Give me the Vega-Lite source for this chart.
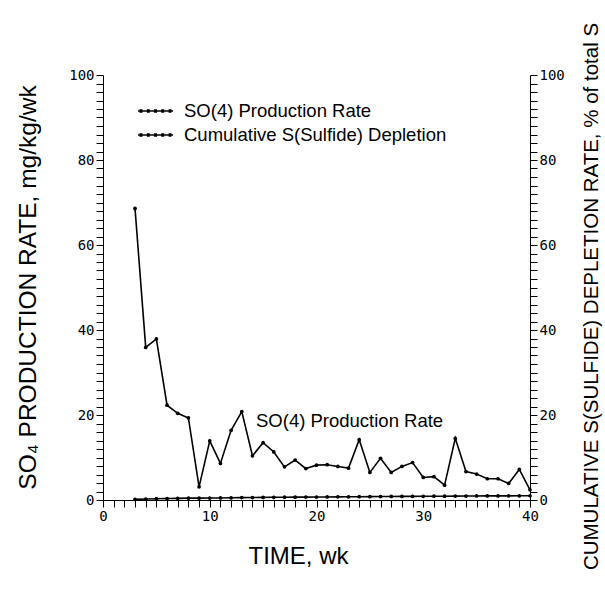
{
  "$schema": "https://vega.github.io/schema/vega-lite/v6.json",
  "width": 427,
  "height": 425,
  "autosize": {"type": "none"},
  "padding": {"left": 103, "top": 75, "right": 75, "bottom": 111},
  "background": "white",
  "config": {
    "view": {"stroke": null},
    "axis": {
      "domainColor": "black",
      "tickColor": "black",
      "labelColor": "black",
      "titleColor": "black",
      "labelFont": "DejaVu Sans Mono",
      "labelFontSize": 14,
      "titleFont": "Liberation Sans",
      "titleFontWeight": "normal",
      "grid": false
    }
  },
  "data": {
    "values": [
      {"week": 3, "so4": 68.6, "cum": 0.14},
      {"week": 4, "so4": 35.9, "cum": 0.22},
      {"week": 5, "so4": 37.9, "cum": 0.30},
      {"week": 6, "so4": 22.3, "cum": 0.34},
      {"week": 7, "so4": 20.4, "cum": 0.39},
      {"week": 8, "so4": 19.3, "cum": 0.43},
      {"week": 9, "so4": 3.1, "cum": 0.43},
      {"week": 10, "so4": 13.9, "cum": 0.46},
      {"week": 11, "so4": 8.6, "cum": 0.48},
      {"week": 12, "so4": 16.4, "cum": 0.52},
      {"week": 13, "so4": 20.8, "cum": 0.56},
      {"week": 14, "so4": 10.4, "cum": 0.58},
      {"week": 15, "so4": 13.5, "cum": 0.61},
      {"week": 16, "so4": 11.3, "cum": 0.63},
      {"week": 17, "so4": 7.8, "cum": 0.65},
      {"week": 18, "so4": 9.4, "cum": 0.67},
      {"week": 19, "so4": 7.4, "cum": 0.68},
      {"week": 20, "so4": 8.2, "cum": 0.70},
      {"week": 21, "so4": 8.3, "cum": 0.72},
      {"week": 22, "so4": 7.9, "cum": 0.74},
      {"week": 23, "so4": 7.5, "cum": 0.75},
      {"week": 24, "so4": 14.2, "cum": 0.78},
      {"week": 25, "so4": 6.5, "cum": 0.79},
      {"week": 26, "so4": 9.8, "cum": 0.82},
      {"week": 27, "so4": 6.5, "cum": 0.83},
      {"week": 28, "so4": 7.9, "cum": 0.85},
      {"week": 29, "so4": 8.8, "cum": 0.86},
      {"week": 30, "so4": 5.3, "cum": 0.87},
      {"week": 31, "so4": 5.5, "cum": 0.89},
      {"week": 32, "so4": 3.5, "cum": 0.89},
      {"week": 33, "so4": 14.5, "cum": 0.92},
      {"week": 34, "so4": 6.7, "cum": 0.94},
      {"week": 35, "so4": 6.1, "cum": 0.95},
      {"week": 36, "so4": 5.0, "cum": 0.96},
      {"week": 37, "so4": 5.0, "cum": 0.97},
      {"week": 38, "so4": 3.9, "cum": 0.98},
      {"week": 39, "so4": 7.2, "cum": 0.99},
      {"week": 40, "so4": 2.4, "cum": 1.0}
    ]
  },
  "encoding": {
    "x": {
      "field": "week", "type": "quantitative",
      "scale": {"domain": [0, 40], "nice": false, "zero": false},
      "axis": {
        "values": [0,1,2,3,4,5,6,7,8,9,10,11,12,13,14,15,16,17,18,19,20,21,22,23,24,25,26,27,28,29,30,31,32,33,34,35,36,37,38,39,40],
        "labelExpr": "datum.value % 10 === 0 ? datum.label : ''",
        "labelOverlap": false,
        "labelFlush": false,
        "tickSize": 7,
        "encode": {"ticks": {"update": {"y2": {"signal": "datum.value % 10 === 0 ? 7 : 4"}}}},
        "title": "TIME, wk",
        "titleFontSize": 24,
        "titleX": 195,
        "titleY": 56,
        "titleAlign": "center",
        "titleBaseline": "middle"
      }
    }
  },
  "layer": [
    {
      "encoding": {
        "y": {
          "field": "so4", "type": "quantitative",
          "scale": {"domain": [0, 100], "nice": false},
          "axis": {
            "orient": "left",
            "values": [0,2,4,6,8,10,12,14,16,18,20,22,24,26,28,30,32,34,36,38,40,42,44,46,48,50,52,54,56,58,60,62,64,66,68,70,72,74,76,78,80,82,84,86,88,90,92,94,96,98,100],
            "labelExpr": "datum.value % 20 === 0 ? datum.label : ''",
            "labelOverlap": false,
            "tickSize": 7,
            "encode": {"ticks": {"update": {"x2": {"signal": "datum.value % 20 === 0 ? -7 : -4"}}}},
            "title": "SO₄ PRODUCTION RATE, mg/kg/wk",
            "titleFontSize": 24.5,
            "titleAngle": 270,
            "titleX": -75,
            "titleY": 212,
            "titleAlign": "center",
            "titleBaseline": "middle"
          }
        }
      },
      "layer": [
        {
          "mark": {"type": "line", "strokeWidth": 1.6},
          "encoding": {
            "color": {
              "datum": "SO(4) Production Rate",
              "type": "nominal",
              "scale": {"domain": ["SO(4) Production Rate", "Cumulative S(Sulfide) Depletion"], "range": ["black", "black"]},
              "legend": {
                "title": null,
                "orient": "none",
                "legendX": 34,
                "legendY": 24,
                "labelFont": "Liberation Sans",
                "labelFontSize": 18.5,
                "labelColor": "black",
                "labelLimit": 0,
                "labelOffset": 10,
                "rowPadding": 0,
                "clipHeight": 24,
                "symbolType": "M-1,0H1M-0.87,-0.06H-0.79V0.06H-0.87ZM-0.45,-0.06H-0.37V0.06H-0.45ZM-0.04,-0.06H0.04V0.06H-0.04ZM0.37,-0.06H0.45V0.06H0.37ZM0.79,-0.06H0.87V0.06H0.79Z",
                "symbolSize": 1225,
                "symbolStrokeColor": "black",
                "symbolFillColor": "black",
                "symbolStrokeWidth": 1.5
              }
            }
          }
        },
        {
          "mark": {"type": "point", "filled": true, "size": 14, "opacity": 1},
          "encoding": {"color": {"datum": "SO(4) Production Rate", "type": "nominal"}}
        },
        {
          "data": {"values": [{"week": 23.1, "so4": 18.6, "label": "SO(4) Production Rate"}]},
          "mark": {"type": "text", "font": "Liberation Sans", "fontSize": 18.5, "color": "black", "align": "center", "baseline": "middle"},
          "encoding": {"text": {"field": "label"}}
        }
      ]
    },
    {
      "encoding": {
        "y": {
          "field": "cum", "type": "quantitative",
          "scale": {"domain": [0, 100], "nice": false},
          "axis": {
            "orient": "right",
            "values": [0,2,4,6,8,10,12,14,16,18,20,22,24,26,28,30,32,34,36,38,40,42,44,46,48,50,52,54,56,58,60,62,64,66,68,70,72,74,76,78,80,82,84,86,88,90,92,94,96,98,100],
            "labelExpr": "datum.value % 20 === 0 ? datum.label : ''",
            "labelOverlap": false,
            "tickSize": 7,
            "encode": {"ticks": {"update": {"x2": {"signal": "datum.value % 20 === 0 ? 7 : 4"}}}},
            "title": "CUMULATIVE S(SULFIDE) DEPLETION RATE, % of total S",
            "titleFontSize": 20.5,
            "titleAngle": 270,
            "titleX": 61,
            "titleY": 221,
            "titleAlign": "center",
            "titleBaseline": "middle"
          }
        },
        "color": {"datum": "Cumulative S(Sulfide) Depletion", "type": "nominal"}
      },
      "layer": [
        {"mark": {"type": "line", "strokeWidth": 1.6}},
        {"mark": {"type": "point", "filled": true, "size": 14, "opacity": 1}}
      ]
    }
  ],
  "resolve": {"scale": {"y": "independent"}}
}
